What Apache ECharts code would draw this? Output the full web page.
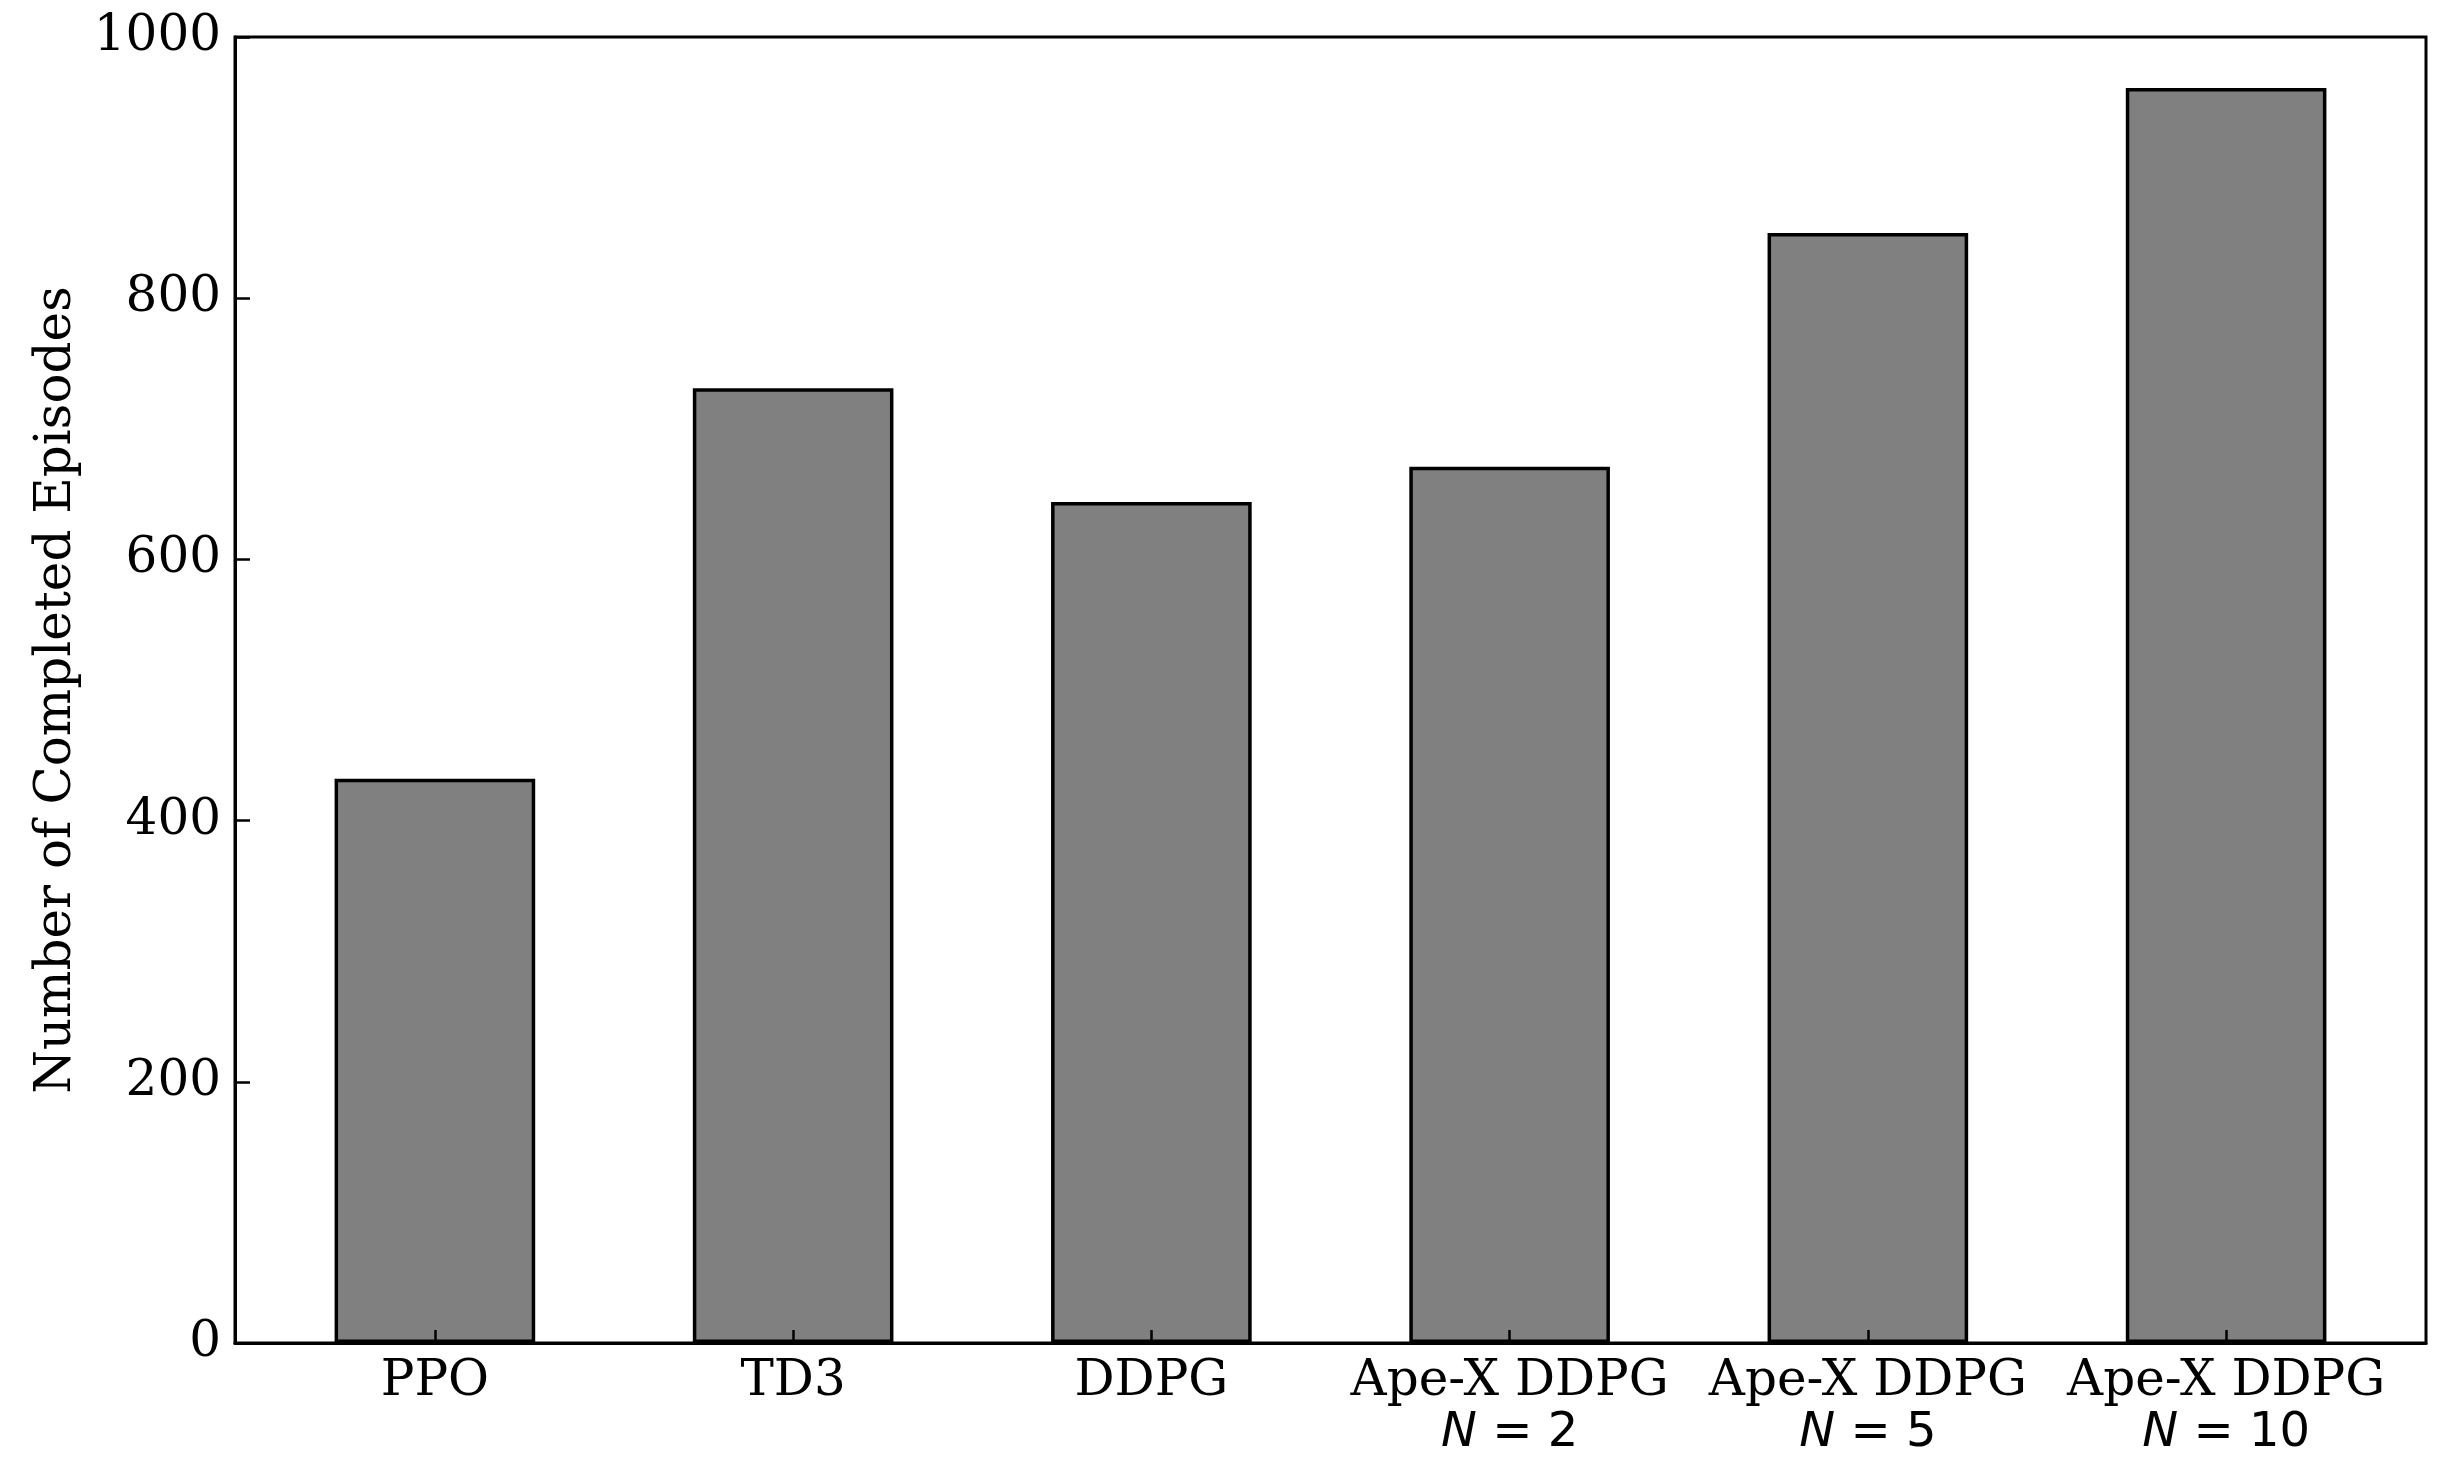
<!DOCTYPE html>
<html>
<head>
<meta charset="utf-8">
<script src="https://cdn.jsdelivr.net/npm/echarts@6/dist/echarts.min.js"></script>
<style>
html,body{margin:0;padding:0;background:#fff;}
#chart{width:2440px;height:1469px;}
</style>
</head>
<body>
<div id="chart"></div>
<script>
// Data
const methods = ['PPO', 'TD3', 'DDPG', 'Ape-X DDPG', 'Ape-X DDPG', 'Ape-X DDPG'];
const workers = [null, null, null, 2, 5, 10];
const episodes = [432, 731, 644, 671, 850, 961];
const yTicks = [0, 200, 400, 600, 800, 1000];
const yTitle = 'Number of Completed Episodes';

const positions = methods.map((m, i) => i);
const seriesData = episodes.map((v, i) => [positions[i], v]);

const serif = 'DejaVu Serif';
const chart = echarts.init(document.getElementById('chart'), null, {renderer: 'canvas'});
chart.setOption({
  animation: false,
  backgroundColor: '#ffffff',
  grid: {
    left: 235, top: 37, right: 14, bottom: 126,
    show: true, borderColor: '#000', borderWidth: 3, backgroundColor: 'transparent'
  },
  xAxis: {
    type: 'value',
    z: 5,
    min: -0.558,
    max: 5.558,
    axisLine: {show: true, onZero: false, lineStyle: {color: '#000', width: 3}},
    splitLine: {show: false},
    axisTick: {show: true, inside: true, length: 13, lineStyle: {color: '#000', width: 2.5}, customValues: positions},
    axisLabel: {
      customValues: positions,
      margin: 14,
      fontFamily: serif,
      fontSize: 50,
      lineHeight: 51,
      color: '#000',
      formatter: function (v) {
        const i = Math.round(v);
        let s = methods[i];
        if (workers[i] !== null) {
          s += '\n{n|N}{s| = ' + workers[i] + '}';
        }
        return s;
      },
      rich: {
        n: {fontFamily: 'DejaVu Sans', fontStyle: 'italic', fontSize: 48, lineHeight: 51, color: '#000'},
        s: {fontFamily: 'DejaVu Sans', fontSize: 48, lineHeight: 51, color: '#000'}
      }
    }
  },
  yAxis: {
    type: 'value',
    z: 5,
    min: yTicks[0],
    max: yTicks[yTicks.length - 1],
    interval: 200,
    name: yTitle,
    nameLocation: 'middle',
    nameGap: 153,
    nameTextStyle: {fontFamily: serif, fontSize: 50, color: '#000'},
    axisLine: {show: true, onZero: false, lineStyle: {color: '#000', width: 3}},
    splitLine: {show: false},
    axisTick: {show: true, inside: true, length: 15, lineStyle: {color: '#000', width: 2.5}},
    axisLabel: {
      margin: 14,
      fontFamily: serif,
      fontSize: 50,
      color: '#000',
      formatter: function (v) { return String(v); }
    }
  },
  series: [{
    type: 'bar',
    z: 2,
    data: seriesData,
    barWidth: '56%',
    itemStyle: {color: '#808080', borderColor: '#000', borderWidth: 3.5},
    silent: true
  }]
});
</script>
</body>
</html>
